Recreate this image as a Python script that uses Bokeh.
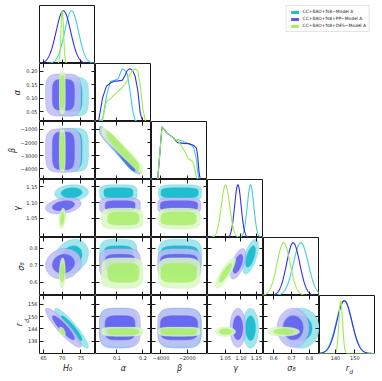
import numpy as np
from bokeh.plotting import figure
from bokeh.models import Range1d, LinearAxis, FixedTicker, GridPlot, Legend, LegendItem, Label
from bokeh.embed import file_html
from bokeh.resources import INLINE

# ---------------- data ----------------
series_labels = ["CC+BAO+fs8\u2212Model A", "CC+BAO+fs8+PP\u2212Model A", "CC+BAO+fs8+DES\u2212Model A"]

# Gaussian-like posteriors: mean and standard deviation (cyan, blue, green)
H0_mean = [72.5, 70.3, 70.0]
H0_std = [1.85, 1.95, 0.35]
gamma_mean = [1.131, 1.090, 1.050]
gamma_std = [0.0105, 0.0105, 0.0135]
sigma8_mean = [0.752, 0.709, 0.655]
sigma8_std = [0.042, 0.037, 0.037]
rd_mean = [144.4, 144.6, 142.7]
rd_std = [4.0, 3.9, 0.95]

# prior-bounded parameters: 68% and 95% extents
alpha_lo68 = [0.050, 0.055, 0.065]
alpha_hi68 = [0.162, 0.170, 0.185]
alpha_lo95 = [0.033, 0.033, 0.040]
alpha_hi95 = [0.178, 0.190, 0.200]
beta_lo68 = [-4000, -4050, -4000]
beta_hi68 = [-1150, -1200, -1300]
beta_lo95 = [-4200, -4250, -4200]
beta_hi95 = [-900, -950, -1000]

# 1D marginals of alpha and beta
alpha_grid = [0.03, 0.045, 0.06, 0.075, 0.09, 0.105, 0.12, 0.13, 0.14, 0.15, 0.16, 0.17, 0.18, 0.19, 0.20, 0.21]
alpha_pdf_C = [0.0, 0.05, 0.48, 0.76, 0.78, 0.81, 1.0, 0.97, 0.90, 0.60, 0.23, 0.02, 0.0, 0.0, 0.0, 0.0]
alpha_pdf_B = [0.02, 0.45, 0.67, 0.73, 0.765, 0.77, 0.78, 0.86, 0.97, 1.0, 0.97, 0.86, 0.60, 0.15, 0.0, 0.0]
alpha_pdf_G = [0.0, 0.02, 0.39, 0.43, 0.51, 0.57, 0.64, 0.70, 0.78, 0.89, 0.97, 1.0, 0.96, 0.67, 0.23, 0.0]
beta_grid = [-4250, -4100, -3920, -3540, -3030, -2900, -2730, -2270, -1890, -1630, -1510, -1300, -1200, -1100, -1000]
beta_pdf_C = [0.0, 0.45, 1.0, 0.88, 0.79, 0.74, 0.76, 0.72, 0.68, 0.645, 0.60, 0.40, 0.15, 0.02, 0.0]
beta_pdf_B = [0.0, 0.45, 1.0, 0.88, 0.79, 0.74, 0.70, 0.685, 0.68, 0.66, 0.645, 0.60, 0.45, 0.15, 0.0]
beta_pdf_G = [0.0, 0.45, 1.0, 0.88, 0.79, 0.72, 0.75, 0.57, 0.39, 0.35, 0.30, 0.05, 0.0, 0.0, 0.0]

# correlations between parameter pairs
rho_H0_gamma = [0.1, 0.3, 0.3]
rho_H0_sigma8 = [0.2, 0.1, 0.1]
rho_H0_rd = [-0.92, -0.90, -0.5]
rho_alpha_beta = [-0.96, -0.96, -0.96]
rho_gamma_sigma8 = [0.6, 0.6, 0.85]

# ---------------- styling ----------------
fill_dark = ["#1fbfcf", "#5d5af0", "#a9ef6a"]
fill_light = ["#a2e5ec", "#bfbcf7", "#daf8c3"]
line_cols = ["#45cbd8", "#3030ec", "#9bec52"]
layer_alpha = [1.0, 0.85, 0.85]
FONT = "DejaVu Sans"

params = ["H0", "alpha", "beta", "gamma", "sigma8", "rd"]
x_limits = {"H0": (63.9, 78.9), "alpha": (0.0177, 0.233), "beta": (-4720, -450),
            "gamma": (0.9916, 1.173), "sigma8": (0.542, 0.857), "rd": (131.7, 160.7)}
y_limits = {"alpha": (0.013, 0.229), "beta": (-4800, -400), "gamma": (0.99, 1.173),
            "sigma8": (0.521, 0.865), "rd": (132.0, 160.4)}
x_tick_vals = {"H0": [65, 70, 75], "alpha": [0.1, 0.2], "beta": [-4000, -2000],
               "gamma": [1.05, 1.1, 1.15], "sigma8": [0.6, 0.7, 0.8], "rd": [140, 150]}
x_tick_text = {"H0": ["65", "70", "75"], "alpha": ["0.1", "0.2"], "beta": ["\u22124000", "\u22122000"],
               "gamma": ["1.05", "1.10", "1.15"], "sigma8": ["0.6", "0.7", "0.8"], "rd": ["140", "150"]}
y_tick_vals = {"alpha": [0.05, 0.1, 0.15, 0.2], "beta": [-1000, -2000, -3000, -4000],
               "gamma": [1.05, 1.1, 1.15], "sigma8": [0.6, 0.7, 0.8], "rd": [138, 144, 150, 156]}
y_tick_text = {"alpha": ["0.05", "0.10", "0.15", "0.20"],
               "beta": ["\u22121000", "\u22122000", "\u22123000", "\u22124000"],
               "gamma": ["1.05", "1.10", "1.15"], "sigma8": ["0.6", "0.7", "0.8"],
               "rd": ["138", "144", "150", "156"]}
titles = {"H0": "H\u2080", "alpha": "\u03b1", "beta": "\u03b2", "gamma": "\u03b3", "sigma8": "\u03c3\u2088", "rd": "r"}

gauss = {"H0": (H0_mean, H0_std), "gamma": (gamma_mean, gamma_std),
         "sigma8": (sigma8_mean, sigma8_std), "rd": (rd_mean, rd_std)}
bounded = {"alpha": (alpha_lo68, alpha_hi68, alpha_lo95, alpha_hi95),
           "beta": (beta_lo68, beta_hi68, beta_lo95, beta_hi95)}
pdf1d = {"alpha": (alpha_grid, [alpha_pdf_C, alpha_pdf_B, alpha_pdf_G]),
         "beta": (beta_grid, [beta_pdf_C, beta_pdf_B, beta_pdf_G])}
rho = {("H0", "gamma"): rho_H0_gamma, ("H0", "sigma8"): rho_H0_sigma8, ("H0", "rd"): rho_H0_rd,
       ("alpha", "beta"): rho_alpha_beta, ("gamma", "sigma8"): rho_gamma_sigma8}


def extent(par, i, level):
    if par in gauss:
        k = 1.515 if level == 68 else 2.448
        return gauss[par][0][i], k * gauss[par][1][i]
    lo68, hi68, lo95, hi95 = bounded[par]
    lo, hi = (lo68[i], hi68[i]) if level == 68 else (lo95[i], hi95[i])
    return (lo + hi) / 2.0, (hi - lo) / 2.0


def region(px, py, i, level):
    cx, hx = extent(px, i, level)
    cy, hy = extent(py, i, level)
    pe = 4.0 if (px in bounded or py in bounded) else 2.0
    r = rho.get((px, py), [0, 0, 0])[i]
    t = np.linspace(0, 2 * np.pi, 161)
    u = np.sign(np.cos(t)) * np.abs(np.cos(t)) ** (2 / pe)
    v = np.sign(np.sin(t)) * np.abs(np.sin(t)) ** (2 / pe)
    return cx + hx * u, cy + hy * (r * u + np.sqrt(1 - r * r) * v)


def add_axis(p, side, ticks, texts, show, title=None):
    ax = LinearAxis(ticker=FixedTicker(ticks=ticks), major_tick_in=4, major_tick_out=0,
                    minor_tick_line_color=None, axis_line_color=None,
                    major_tick_line_color="#1a1a1a", major_tick_line_width=1)
    if show:
        ax.major_label_overrides = {float(v): s for v, s in zip(ticks, texts)}
        ax.major_label_text_font_size = "5px"
        ax.major_label_text_font = FONT
        ax.major_label_text_color = "#262626"
        ax.major_label_standoff = 2
    else:
        ax.major_label_text_font_size = "0px"
        ax.major_label_text_color = None
        ax.major_label_standoff = 0
    if title:
        ax.axis_label = title
        ax.axis_label_text_font_size = "8px"
        ax.axis_label_text_font = FONT
        ax.axis_label_text_color = "#262626"
        ax.axis_label_standoff = 1
    p.add_layout(ax, side)


def subscript(p, side, **kw):
    p.add_layout(Label(text="d", text_font_size="6px", text_font=FONT, text_font_style="italic",
                       text_color="#262626", text_baseline="alphabetic", text_align="left", **kw), side)


FW, FH = 56, 58
TOP = 5
children = []
for r in range(6):
    for c in range(r + 1):
        px, py = params[c], params[r]
        diag = r == c
        yl = (0, 1.1) if diag else y_limits[py]
        p = figure(frame_width=FW, frame_height=FH, x_range=Range1d(*x_limits[px]), y_range=Range1d(*yl),
                   output_backend="svg", toolbar_location=None, x_axis_location=None, y_axis_location=None,
                   min_border_left=39 if c == 0 else 0, min_border_right=0,
                   min_border_top=TOP if r == 0 else 0,
                   min_border_bottom=20 if r == 5 else 0,
                   outline_line_color="#1a1a1a", outline_line_width=1)
        p.grid.visible = False
        if diag:
            for i in range(3):
                if px in pdf1d:
                    xs = pdf1d[px][0]
                    ys = pdf1d[px][1][i]
                else:
                    lo, hi = x_limits[px]
                    xs = np.linspace(lo, hi, 200)
                    m, s = gauss[px][0][i], gauss[px][1][i]
                    ys = np.exp(-0.5 * ((xs - m) / s) ** 2)
                p.line(xs, ys, line_color=line_cols[i], line_width=1.1)
            add_axis(p, "below", x_tick_vals[px], x_tick_text[px], r == 5, titles[px] if r == 5 else None)
        else:
            for i in range(3):
                ox, oy = region(px, py, i, 95)
                ix, iy = region(px, py, i, 68)
                p.patch(ox, oy, fill_color=fill_light[i], fill_alpha=layer_alpha[i],
                        line_color=fill_dark[i], line_alpha=0.35, line_width=0.6)
                p.patch(ix, iy, fill_color=fill_dark[i], fill_alpha=layer_alpha[i],
                        line_color=fill_dark[i], line_alpha=0.6, line_width=0.6)
            add_axis(p, "below", x_tick_vals[px], x_tick_text[px], r == 5, titles[px] if r == 5 else None)
            add_axis(p, "above", x_tick_vals[px], x_tick_text[px], False)
            add_axis(p, "left", y_tick_vals[py], y_tick_text[py], c == 0, titles[py] if c == 0 else None)
            add_axis(p, "right", y_tick_vals[py], y_tick_text[py], False)
        if r == 5 and c == 5:
            subscript(p, "below", x=sum(x_limits["rd"]) / 2, y=0, x_offset=1.8, y_offset=-17.5)
        if r == 5 and c == 0:
            subscript(p, "left", x=x_limits["H0"][0], y=sum(y_limits["rd"]) / 2, angle=np.pi / 2,
                      x_offset=-13, y_offset=1.8)
        children.append((p, r, c))

# legend panel
lp = figure(width=3 * FW, height=FH + TOP, x_range=Range1d(0, 1), y_range=Range1d(0, 1), output_backend="svg",
            toolbar_location=None, x_axis_location=None, y_axis_location=None,
            min_border_left=0, min_border_right=5, min_border_top=5, min_border_bottom=0,
            outline_line_color=None)
lp.grid.visible = False
items = []
for i in range(3):
    rr = lp.quad(left=[5], right=[6], bottom=[5], top=[6], fill_color=fill_dark[i], line_color=None)
    items.append(LegendItem(label=series_labels[i], renderers=[rr]))
leg = Legend(items=items, location="top_right", margin=0, padding=3, spacing=2,
             label_text_font_size="4.4px", label_text_font=FONT, label_text_color="#262626",
             label_height=5, glyph_height=4, glyph_width=10, label_standoff=3,
             border_line_color="#cccccc", border_line_width=0.8, background_fill_color="white")
lp.add_layout(leg)
children.append((lp, 0, 3, 1, 3))

grid = GridPlot(children=children, toolbar_location=None, spacing=0)

with open("out.html", "w") as f:
    f.write(file_html(grid, INLINE))
